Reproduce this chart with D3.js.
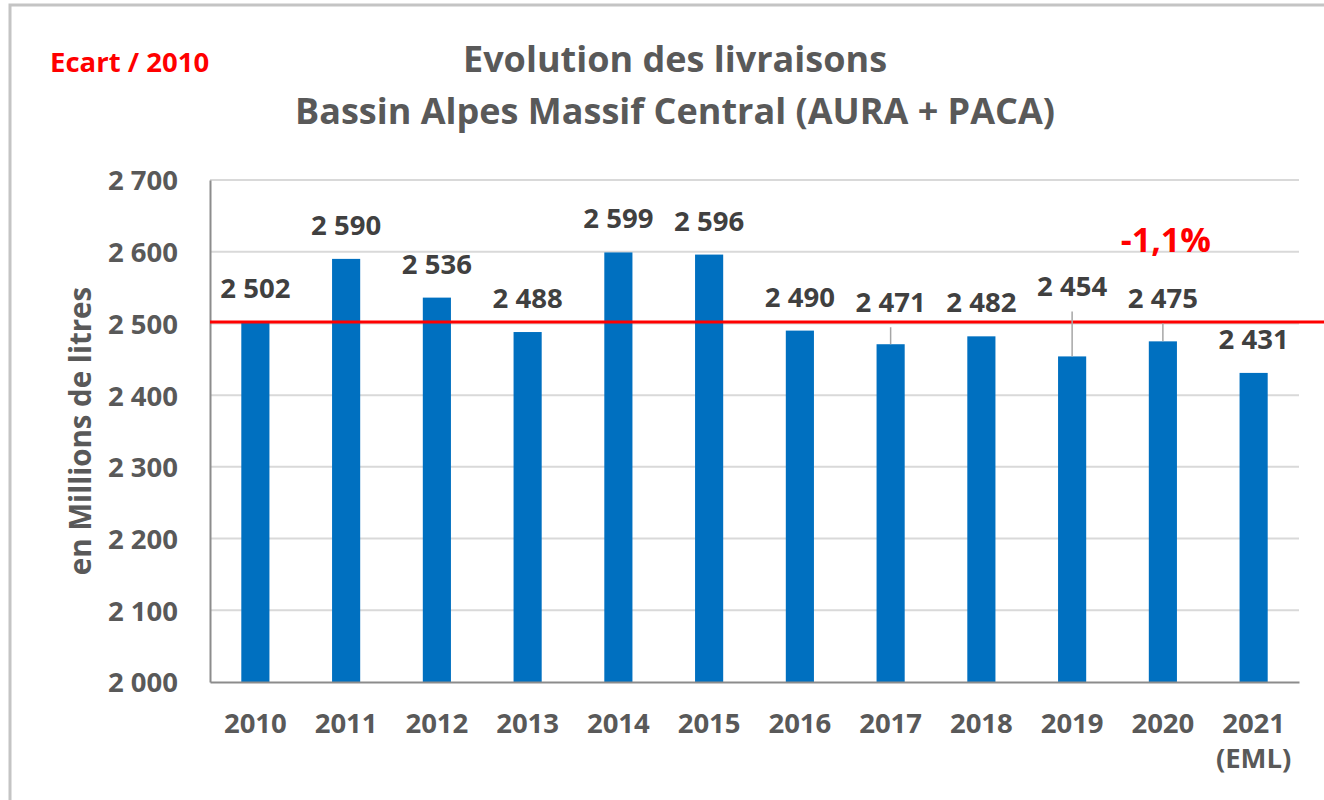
<!DOCTYPE html>
<html lang="fr">
<head>
<meta charset="utf-8">
<title>Evolution des livraisons</title>
<script src="https://cdn.jsdelivr.net/npm/d3@7"></script>
<style>
  body { margin: 0; background: #fff; }
  svg text { font-family: 'Open Sans', 'Noto Sans', sans-serif; font-weight: bold; }
</style>
</head>
<body>
<div id="chart"></div>
<script>
const years = ['2010', '2011', '2012', '2013', '2014', '2015', '2016', '2017', '2018', '2019', '2020', '2021']
const yearNotes = ['', '', '', '', '', '', '', '', '', '', '', '(EML)']
const deliveries = [2502, 2590, 2536, 2488, 2599, 2596, 2490, 2471, 2482, 2454, 2475, 2431]
const yTicks = [2000, 2100, 2200, 2300, 2400, 2500, 2600, 2700]
const referenceYear = '2010'
const ecartYear = '2020'

// labels that were dragged up in the original, in pixels
const labelNudge = { 2017: -8, 2019: -36, 2020: -9 }

const width = 1324
const height = 800
const margin = { top: 180, right: 25, bottom: 118, left: 210 }

const fr = d3.formatLocale({ decimal: ',', thousands: ' ', grouping: [3], currency: ['', ' €'] })
const fmt = fr.format(',d')
const pct = fr.format('+.1%')

const svg = d3.select('#chart')
  .append('svg')
  .attr('width', width)
  .attr('height', height)

// outer frame
svg.append('rect')
  .attr('x', 10)
  .attr('y', 5)
  .attr('width', width + 20)
  .attr('height', height + 20)
  .attr('fill', '#fff')
  .attr('stroke', '#c4c4c4')
  .attr('stroke-width', 3)

const x = d3.scaleBand()
  .domain(years)
  .range([margin.left, width - margin.right])
  .paddingInner(0.69)
  .paddingOuter(0.345)

const y = d3.scaleLinear()
  .domain([yTicks[0], yTicks[yTicks.length - 1]])
  .range([height - margin.bottom, margin.top])

// gridlines
svg.append('g')
  .classed('grid', true)
  .selectAll('line')
  .data(yTicks.slice(1))
  .enter()
  .append('line')
  .attr('x1', margin.left)
  .attr('x2', width - margin.right)
  .attr('y1', d => y(d))
  .attr('y2', d => y(d))
  .attr('stroke', '#d9d9d9')
  .attr('stroke-width', 2)

// y axis
const yAxis = svg.append('g')
  .attr('transform', `translate(${margin.left},0)`)
  .call(d3.axisLeft(y).tickValues(yTicks).tickFormat(fmt).tickSize(0).tickPadding(32))
yAxis.select('.domain').attr('stroke', '#8c8c8c').attr('stroke-width', 2)
yAxis.selectAll('text')
  .attr('font-size', 27.5)
  .attr('fill', '#595959')
  .attr('dy', '0.36em')

// bars
svg.append('g')
  .classed('bars', true)
  .selectAll('rect')
  .data(deliveries)
  .enter()
  .append('rect')
  .attr('x', (d, i) => x(years[i]))
  .attr('width', x.bandwidth())
  .attr('y', d => y(d))
  .attr('height', d => y(yTicks[0]) - y(d))
  .attr('fill', '#0070c0')

// x axis
const xAxis = svg.append('g')
  .attr('transform', `translate(0,${y(yTicks[0])})`)
  .call(d3.axisBottom(x).tickSize(0).tickPadding(0))
xAxis.select('.domain').attr('stroke', '#8c8c8c').attr('stroke-width', 2)
xAxis.selectAll('text').remove()
xAxis.selectAll('.tick')
  .append('text')
  .attr('font-size', 27.5)
  .attr('fill', '#595959')
  .attr('text-anchor', 'middle')
  .each(function (d, i) {
    const t = d3.select(this)
    t.append('tspan').attr('x', 0).attr('y', 51).text(d)
    if (yearNotes[i]) t.append('tspan').attr('x', 0).attr('y', 86).text(yearNotes[i])
  })

// reference line at the 2010 value
const refValue = deliveries[years.indexOf(referenceYear)]
svg.append('line')
  .attr('x1', margin.left)
  .attr('x2', width)
  .attr('y1', y(refValue))
  .attr('y2', y(refValue))
  .attr('stroke', '#ff0000')
  .attr('stroke-width', 3)

// leader lines for moved labels
svg.append('g')
  .classed('leaders', true)
  .selectAll('line')
  .data(deliveries.map((d, i) => ({ year: years[i], value: d })).filter(d => labelNudge[d.year]))
  .enter()
  .append('line')
  .attr('x1', d => x(d.year) + x.bandwidth() / 2)
  .attr('x2', d => x(d.year) + x.bandwidth() / 2)
  .attr('y1', d => y(d.value) - 24 + labelNudge[d.year] + 15)
  .attr('y2', d => y(d.value))
  .attr('stroke', '#a6a6a6')
  .attr('stroke-width', 1.5)

// value labels
svg.append('g')
  .classed('labels', true)
  .selectAll('text')
  .data(deliveries)
  .enter()
  .append('text')
  .attr('x', (d, i) => x(years[i]) + x.bandwidth() / 2)
  .attr('y', (d, i) => y(d) - 24 + (labelNudge[years[i]] || 0))
  .attr('text-anchor', 'middle')
  .attr('font-size', 27.5)
  .attr('fill', '#404040')
  .text(d => fmt(d))

// ecart vs 2010
const ecartValue = deliveries[years.indexOf(ecartYear)] / refValue - 1
svg.append('text')
  .attr('x', x(ecartYear) + x.bandwidth() / 2 + 3)
  .attr('y', 252)
  .attr('text-anchor', 'middle')
  .attr('font-size', 34)
  .attr('fill', '#ff0000')
  .text(pct(ecartValue).replace('+', '').replace('−', '-'))

svg.append('text')
  .attr('x', 50)
  .attr('y', 72)
  .attr('font-size', 27.5)
  .attr('fill', '#ff0000')
  .text('Ecart / ' + referenceYear)

// titles
const title = svg.append('text')
  .attr('text-anchor', 'middle')
  .attr('font-size', 36)
  .attr('fill', '#595959')
title.append('tspan').attr('x', 675).attr('y', 72).text('Evolution des livraisons')
title.append('tspan').attr('x', 675).attr('y', 124).text('Bassin Alpes Massif Central (AURA + PACA)')

svg.append('text')
  .attr('transform', `translate(91,${(margin.top + height - margin.bottom) / 2}) rotate(-90)`)
  .attr('text-anchor', 'middle')
  .attr('font-size', 29.5)
  .attr('fill', '#595959')
  .text('en Millions de litres')
</script>
</body>
</html>
